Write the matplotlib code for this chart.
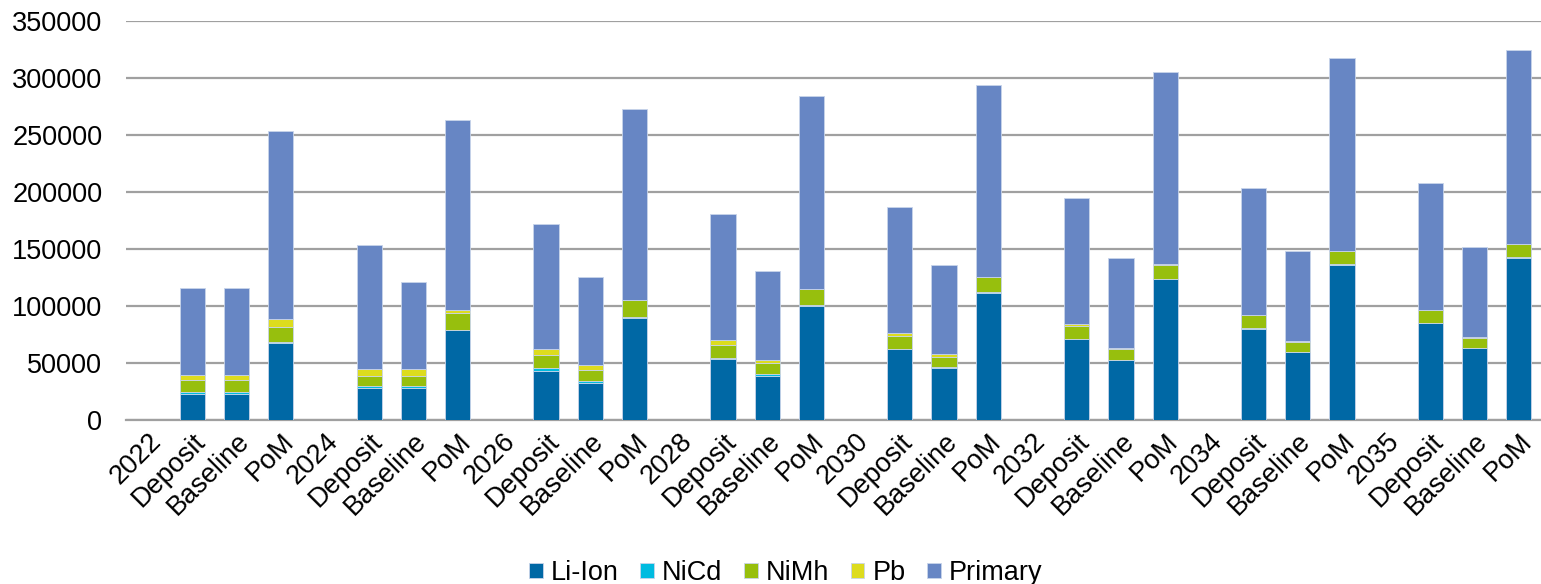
import numpy as np
import matplotlib
matplotlib.use("Agg")
import matplotlib.pyplot as plt

plt.rcParams['font.family'] = ['Liberation Sans', 'DejaVu Sans']

years = ['2022', '2024', '2026', '2028', '2030', '2032', '2034', '2035']
scenarios = ['Deposit', 'Baseline', 'PoM']

# one value per bar: Deposit, Baseline, PoM for each year (tonnes)
li_ion = [22500, 22500, 67800, 27800, 27800, 78900, 43200, 32700, 89700,
          53200, 38900, 100300, 62000, 45900, 111600, 71000, 52600, 123400,
          80100, 59400, 136200, 84800, 63100, 142300]
nicd = [2300, 2300, 300, 2000, 2000, 300, 2100, 1500, 300,
        900, 1200, 300, 500, 500, 300, 400, 400, 300,
        300, 400, 300, 300, 300, 300]
nimh = [10200, 10200, 13700, 9100, 9100, 14900, 11700, 9700, 15000,
        11700, 9600, 14300, 11200, 8900, 13200, 11300, 9000, 12500,
        11300, 8900, 11700, 11100, 8700, 11500]
pb = [4500, 4500, 6800, 5500, 5500, 2400, 5500, 4300, 500,
      4400, 2900, 300, 2900, 2600, 300, 1200, 1400, 300,
      400, 600, 300, 400, 400, 300]
primary = [76500, 76500, 164900, 109100, 76600, 166500, 109500, 77500, 167000,
           110500, 77800, 168800, 110200, 78100, 168400, 110800, 78400, 168700,
           111400, 78900, 169300, 111600, 79200, 170400]

series = [('Li-Ion', li_ion, '#0068A5'),
          ('NiCd', nicd, '#00BBE0'),
          ('NiMh', nimh, '#97BF0D'),
          ('Pb', pb, '#DDDC1E'),
          ('Primary', primary, '#6786C4')]

labels = []
for y in years:
    labels += [y] + scenarios
x_all = np.arange(len(labels))
x_bars = np.array([i * 4 + 1 + j for i in range(len(years)) for j in range(3)])

fig = plt.figure(figsize=(15.41, 5.84), dpi=100)
ax = fig.add_axes([126 / 1541, 1 - 420 / 584, 1 - 126 / 1541, 399 / 584])

bottom = np.zeros(len(x_bars))
for name, vals, col in series:
    vals = np.array(vals)
    ax.bar(x_bars, vals, 0.57, bottom=bottom, color=col, label=name,
           edgecolor='#c8d4ea', linewidth=0.6, zorder=3)
    bottom += vals

ax.set_ylim(0, 350000)
ax.set_xlim(-0.5, len(labels) - 0.5)
ax.set_yticks(np.arange(0, 350001, 50000))
ax.yaxis.grid(True, color='#A0A0A0', linewidth=1.6, zorder=0)
for s in ['top', 'right', 'left']:
    ax.spines[s].set_visible(False)
ax.spines['bottom'].set_color('#A0A0A0')
ax.spines['bottom'].set_linewidth(1.6)
ax.tick_params(axis='both', length=0, labelsize=19.5, colors='black')
ax.tick_params(axis='y', pad=17)
ax.set_xticks(x_all)
ax.set_xticklabels(labels, rotation=45, ha='right', va='top',
                   rotation_mode='anchor')
ax.tick_params(axis='x', pad=6)

fig.legend(loc='lower center', ncol=5, frameon=False, fontsize=19.5,
           handlelength=0.5, handleheight=0.5, handletextpad=0.3,
           columnspacing=0.8, bbox_to_anchor=(0.51, -0.045))

fig.savefig('out.png', dpi=100)
